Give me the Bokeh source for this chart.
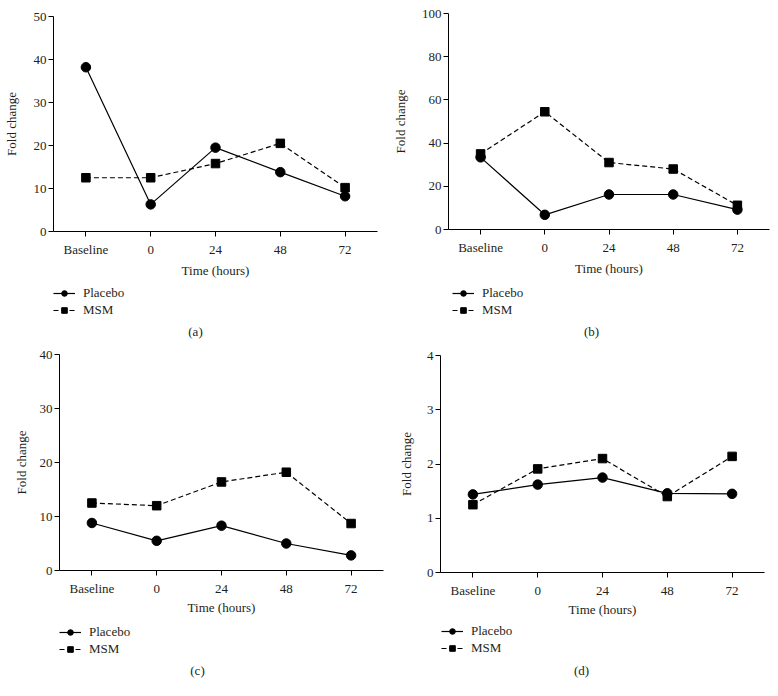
from bokeh.plotting import figure
from bokeh.models import Range1d, FixedTicker, Legend, LegendItem, Label, FactorRange
from bokeh.layouts import column, row
from bokeh.embed import file_html
from bokeh.resources import INLINE

categories = ["Baseline", "0", "24", "48", "72"]

placebo_a = [38.2, 6.3, 19.5, 13.8, 8.2]
msm_a = [12.5, 12.5, 15.8, 20.5, 10.2]
placebo_b = [33.4, 6.8, 16.2, 16.2, 9.2]
msm_b = [35.0, 54.5, 31.0, 28.0, 11.2]
placebo_c = [8.8, 5.5, 8.3, 5.0, 2.8]
msm_c = [12.5, 12.0, 16.4, 18.2, 8.7]
placebo_d = [1.44, 1.62, 1.75, 1.46, 1.45]
msm_d = [1.25, 1.91, 2.10, 1.40, 2.14]

y_max = [50, 100, 40, 4]
y_ticks = [[0, 10, 20, 30, 40, 50], [0, 20, 40, 60, 80, 100],
           [0, 10, 20, 30, 40], [0, 1, 2, 3, 4]]
panel_labels = ["(a)", "(b)", "(c)", "(d)"]
series_names = ["Placebo", "MSM"]
x_title = "Time (hours)"
y_title = "Fold change"

placebo_all = [placebo_a, placebo_b, placebo_c, placebo_d]
msm_all = [msm_a, msm_b, msm_c, msm_d]

# per-panel layout (pixels)
layout = [
    dict(h=280, l=52, r=12, t=16, b=48, ys=12, xs=3, lh=60, lx=0, ly=22, cx=142, cy=9),
    dict(h=280, l=52, r=9, t=13, b=51, ys=11, xs=3, lh=60, lx=4, ly=22, cx=143, cy=9),
    dict(h=280, l=59, r=6, t=14, b=50, ys=8, xs=1, lh=76, lx=0, ly=39, cx=138, cy=26),
    dict(h=280, l=51, r=14, t=15, b=48, ys=10, xs=1, lh=76, lx=1, ly=40, cx=141, cy=26),
]
W = 389

FONT = "Liberation Serif"
TXT = "#231f20"


def style_fig(p):
    p.xgrid.visible = False
    p.ygrid.visible = False
    p.outline_line_color = None
    p.background_fill_color = "white"
    p.border_fill_color = "white"


def add_series(p, i, visible=True):
    lp = p.line(categories, placebo_all[i], line_color="black", line_width=1.2, visible=visible)
    sp = p.scatter(categories, placebo_all[i], marker="circle", size=9.5,
                   fill_color="black", line_color="black", visible=visible)
    lm = p.line(categories, msm_all[i], line_color="black", line_width=1.2,
                line_dash="5 3", visible=visible)
    sm = p.scatter(categories, msm_all[i], marker="square", size=8.5,
                   fill_color="black", line_color="black", visible=visible)
    return lp, sp, lm, sm


panels = []
for i in range(4):
    L = layout[i]
    p = figure(x_range=FactorRange(*categories), y_range=Range1d(0, y_max[i]),
               width=W, height=L["h"], min_border_left=L["l"], min_border_right=L["r"],
               min_border_top=L["t"], min_border_bottom=L["b"],
               output_backend="svg", toolbar_location=None, tools="")
    style_fig(p)
    add_series(p, i)

    for ax in (p.xaxis[0], p.yaxis[0]):
        ax.axis_line_color = "black"
        ax.axis_line_width = 1
        ax.major_tick_line_color = "black"
        ax.major_tick_out = 5
        ax.major_tick_in = 0
        ax.minor_tick_line_color = None
        ax.major_label_text_font = FONT
        ax.major_label_text_font_size = "13px"
        ax.major_label_text_color = TXT
        ax.axis_label_text_font = FONT
        ax.axis_label_text_font_size = "13px"
        ax.axis_label_text_font_style = "normal"
        ax.axis_label_text_color = TXT

    p.xaxis[0].axis_label = x_title
    p.xaxis[0].major_label_standoff = 5
    p.xaxis[0].axis_label_standoff = L["xs"]
    p.yaxis[0].axis_label = y_title
    p.yaxis[0].ticker = FixedTicker(ticks=y_ticks[i])
    p.yaxis[0].major_label_standoff = 2
    p.yaxis[0].axis_label_standoff = L["ys"]

    # legend / caption strip below the chart (its frame aligns with the chart frame)
    q = figure(x_range=FactorRange(*categories), y_range=Range1d(0, y_max[i]),
               width=W, height=L["lh"], min_border=0,
               x_axis_location=None, y_axis_location=None,
               output_backend="svg", toolbar_location=None, tools="")
    style_fig(q)
    lp, sp, lm, sm = add_series(q, i, visible=False)
    leg = Legend(items=[LegendItem(label=series_names[0], renderers=[lp, sp]),
                        LegendItem(label=series_names[1], renderers=[lm, sm])],
                 location=(L["lx"], L["ly"]), orientation="vertical",
                 padding=0, margin=0, spacing=1, glyph_width=22, glyph_height=14,
                 label_height=14, label_standoff=8, border_line_alpha=0,
                 background_fill_alpha=0, label_text_font=FONT,
                 label_text_font_size="13px", label_text_color=TXT,
                 click_policy="none")
    q.add_layout(leg)
    cap = Label(x=L["cx"], y=L["cy"], x_units="screen", y_units="screen",
                text=panel_labels[i], text_align="center", text_baseline="middle",
                text_font=FONT, text_font_size="13px", text_color=TXT)
    q.add_layout(cap)
    panels.append(column(p, q, spacing=0))

layout_obj = column(row(panels[0], panels[1], spacing=0),
                    row(panels[2], panels[3], spacing=0), spacing=0)
open("out.html", "w").write(file_html(layout_obj, INLINE))
